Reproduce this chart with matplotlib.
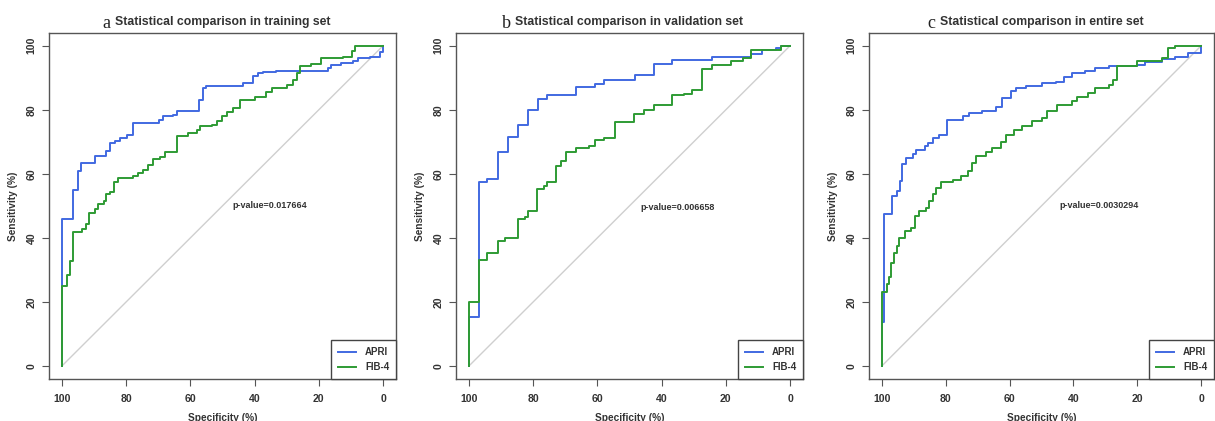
import matplotlib
matplotlib.use("Agg")
import matplotlib.pyplot as plt

plt.rcParams['font.family'] = ['Liberation Sans', 'DejaVu Sans']

BLUE = '#4169E1'
GREEN = '#2E9B34'
TXT = '#333333'
FRAME = '#555555'

letters = ['a', 'b', 'c']
titles = ['Statistical comparison in training set',
          'Statistical comparison in validation set',
          'Statistical comparison in entire set']
p_values = ['p-value=0.017664', 'p-value=0.006658', 'p-value=0.0030294']
ticks = [100, 80, 60, 40, 20, 0]

# training set
a_apri_spec = [100, 100, 96.4, 95, 94, 89.8, 86.2, 85, 83.4, 81.9, 79.8, 77.7, 69.7, 68.6, 65.3, 64.2,
               57.3, 56.2, 55.2, 43.5, 40.4, 38.9, 37.3, 33.2, 17.1, 16.1, 13, 9.3, 7.8, 4.1, 1, 0]
a_apri_sens = [0, 45.8, 55, 60.8, 63.4, 65.5, 67, 69.6, 70.2, 71.2, 72, 75.9, 76.9, 78.2, 78.4, 79.7,
               83.1, 86.7, 87.5, 88.3, 90.6, 91.4, 91.7, 92.2, 93, 94, 94.5, 95.3, 96.1, 96.6, 98.1, 100]
a_fib_spec = [100, 100, 98.4, 97.4, 96.4, 93.8, 92.4, 91.4, 89.8, 88.6, 87, 86.2, 85, 83.9, 82.4,
              77.7, 76.2, 74.6, 73.1, 71.5, 69.4, 67.9, 64.2, 60.6, 58, 56.9, 53.4, 51.8, 50, 48.7,
              46.6, 44.6, 39.9, 36.3, 34.7, 30, 28, 26.9, 25.9, 22.3, 19.2, 12.4, 9.8, 8.8, 0]
a_fib_sens = [0, 25.1, 28.4, 32.8, 42, 42.7, 44.2, 47.9, 49.1, 50.5, 51.5, 53.6, 54.3, 57.4, 58.8,
              59.3, 60.3, 61.3, 62.9, 64.5, 65.3, 66.7, 71.9, 72.7, 73.8, 74.8, 75.3, 76.4, 77.9, 79.2,
              80.5, 83.1, 84.1, 85.4, 86.9, 87.8, 89.3, 91.4, 93.5, 94.3, 96.1, 96.6, 98.3, 100, 100]

# validation set
b_apri_spec = [100, 100, 96.9, 94.5, 91, 87.9, 84.6, 81.7, 78.6, 75.8, 66.7, 60.7, 57.8, 48.2, 42.5,
               36.7, 24.2, 12.3, 8.8, 4.5, 2.9, 0]
b_apri_sens = [0, 15.4, 57.6, 58.4, 66.9, 71.6, 75.2, 79.8, 83.4, 84.5, 87.1, 88.1, 89.2, 90.8, 94.4,
               95.4, 96.5, 97.5, 98.6, 99.3, 100, 100]
b_fib_spec = [100, 100, 96.9, 94.5, 91, 88.8, 84.8, 82.5, 81.7, 78.9, 76.5, 75.8, 72.8, 71.3, 69.7,
              66.7, 62.7, 60.7, 57.8, 54.4, 48.7, 45.6, 42.5, 36.7, 33.1, 30.5, 27.4, 24.2, 18.5, 14.7,
              12.3, 2.9, 0]
b_fib_sens = [0, 20.1, 33, 35.4, 39, 40.1, 45.8, 46.5, 48.3, 55.3, 56.3, 57.6, 62.5, 64.1, 66.9,
              68.2, 68.7, 70.5, 71.3, 76.2, 78.6, 79.9, 81.4, 84.5, 84.8, 86.3, 92.8, 94.1, 95.1, 96.2,
              98.6, 100, 100]

# entire set
c_apri_spec = [100, 100, 99.4, 96.7, 95.2, 94.4, 93.6, 92.5, 90.2, 89.4, 86.6, 85.6, 84, 82, 79.7,
               74.7, 72.8, 68.5, 64.3, 62.4, 59.6, 58.1, 55, 49.8, 45.6, 43, 40.5, 36.3, 33.2, 29,
               20.2, 17.6, 12.4, 8.3, 4.1, 0, 0]
c_apri_sens = [0, 13.7, 47.4, 53, 54.6, 57.7, 63.1, 65, 66.3, 67.3, 68.6, 69.6, 71.2, 72.2, 76.9,
               77.9, 79, 79.5, 80.8, 83.6, 85.7, 86.7, 87.5, 88.3, 88.8, 90.2, 91.4, 92.2, 93, 93.5,
               94, 95, 95.8, 96.6, 97.8, 99.4, 100]
c_fib_spec = [100, 100, 98.5, 97.7, 97, 96.3, 95.2, 94.6, 92.8, 90.8, 89.7, 88.2, 86.1, 85.1, 84,
              83, 81.4, 77.8, 75.2, 73.1, 71.6, 70.5, 67.4, 65.4, 62.8, 61.2, 58.6, 56, 52.9, 49.8,
              48.2, 45.1, 40.5, 38.9, 35.3, 33.2, 29, 27.5, 26.5, 20.2, 12.4, 10.4, 8.3, 0]
c_fib_sens = [0, 23.2, 25.6, 27.7, 32.3, 35.4, 37.5, 40.1, 42.2, 43.2, 46.8, 48.4, 49.4, 51.5, 53.6,
              55.6, 57.4, 58, 59.3, 60.8, 63.4, 65.5, 66.7, 68.1, 69.8, 72.2, 73.8, 75, 76.4, 77.4,
              79.5, 81.6, 82.6, 84.1, 85.2, 86.7, 87.8, 89.3, 93.5, 95.3, 96.1, 99.2, 100, 100]

# where the p-value text starts (specificity, sensitivity)
p_pos = [(47, 50), (46.6, 49.5), (44.4, 50)]


def draw_panel(ax, letter, title, apri, fib, ptext, ppos):
    ax.set_xlim(104, -4)
    ax.set_ylim(-4, 104)

    ax.plot([100, 0], [0, 100], color='#cfcfcf', lw=1.0, zorder=1)
    ax.plot(apri[0], apri[1], drawstyle='steps-post', color=BLUE, lw=1.4, label='APRI', zorder=3)
    ax.plot(fib[0], fib[1], drawstyle='steps-post', color=GREEN, lw=1.4, label='FIB-4', zorder=4)

    ax.set_xticks(ticks)
    ax.set_yticks(ticks)
    ax.tick_params(direction='out', length=5, width=0.8, color=FRAME,
                   labelsize=7.6, labelcolor=TXT)
    ax.tick_params(axis='y', labelrotation=90, pad=4)
    ax.tick_params(axis='x', pad=6)
    for lbl in ax.get_xticklabels() + ax.get_yticklabels():
        lbl.set_fontweight('bold')
    for lbl in ax.get_yticklabels():
        lbl.set_va('center')

    for sp in ax.spines.values():
        sp.set_color(FRAME)
        sp.set_linewidth(1.0)

    ax.set_xlabel('Specificity (%)', fontsize=7.3, fontweight='bold', color=TXT, labelpad=6)
    ax.set_ylabel('Sensitivity (%)', fontsize=7.3, fontweight='bold', color=TXT, labelpad=6)

    t = ax.set_title(title, fontsize=8.8, fontweight='bold', color=TXT, pad=6)
    ax.annotate(letter, xy=(0, 0.3), xycoords=t, xytext=(-3, 0), textcoords='offset points',
                ha='right', va='center', fontsize=13, family='Liberation Serif', color='#222222')

    ax.text(ppos[0], ppos[1], ptext, fontsize=6.5, fontweight='bold', color=TXT,
            ha='left', va='center')

    leg = ax.legend(loc='lower right', borderaxespad=0, fancybox=False, framealpha=1,
                    edgecolor='#444444', handlelength=1.9, handletextpad=0.9,
                    labelspacing=0.5, borderpad=0.7, prop={'weight': 'bold', 'size': 7})
    leg.get_frame().set_linewidth(1.0)
    for txt in leg.get_texts():
        txt.set_color(TXT)


def main():
    fig = plt.figure(figsize=(12.15, 4.21), dpi=100)
    lefts = [0.0403, 0.3753, 0.7152]
    curves = [((a_apri_spec, a_apri_sens), (a_fib_spec, a_fib_sens)),
              ((b_apri_spec, b_apri_sens), (b_fib_spec, b_fib_sens)),
              ((c_apri_spec, c_apri_sens), (c_fib_spec, c_fib_sens))]
    for i in range(3):
        ax = fig.add_axes([lefts[i], 0.1, 0.2856 if i < 2 else 0.284, 0.822])
        draw_panel(ax, letters[i], titles[i], curves[i][0], curves[i][1], p_values[i], p_pos[i])
    fig.savefig('out.png', dpi=100)


if __name__ == '__main__':
    main()
